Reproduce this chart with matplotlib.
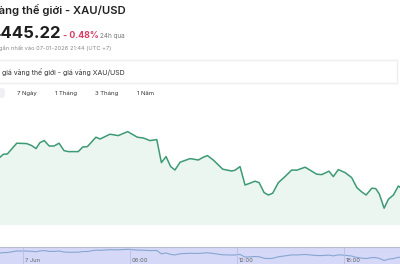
import matplotlib
matplotlib.use("Agg")
import matplotlib.pyplot as plt
from matplotlib.patches import FancyBboxPatch, Rectangle

plt.rcParams['font.family'] = ['Inter', 'DejaVu Sans']

# hours after 7 Jun 00:00 and XAU/USD price
hours = [-1.29, -1.10, -0.88, -0.35, 0.21, 0.49, 0.73, 0.95, 1.19, 1.47,
         1.74, 2.02, 2.30, 2.54, 3.10, 3.35, 3.61, 4.09, 4.32, 4.60,
         4.88, 5.34, 5.87, 6.10, 6.41, 6.75, 7.12, 7.50, 7.76, 8.02,
         8.28, 8.52, 8.81, 9.37, 9.83, 10.11, 10.34, 10.67, 11.20, 11.70,
         11.89, 12.17, 12.45, 12.73, 13.01, 13.24, 13.52, 13.76, 14.00, 14.32,
         14.69, 15.07, 15.35, 15.82, 16.10, 16.47, 16.75, 17.16, 17.40, 17.68,
         18.06, 18.43, 18.72, 19.00, 19.24, 19.56, 19.78, 19.98, 20.25, 20.49,
         20.77, 21.05, 21.14]
prices = [4459.4, 4460.9, 4461.0, 4466.4, 4466.2, 4465.2, 4463.7, 4466.7, 4467.7, 4465.0,
          4465.0, 4466.4, 4462.7, 4462.2, 4462.2, 4464.5, 4464.7, 4469.4, 4468.5, 4469.7,
          4470.9, 4470.2, 4472.2, 4471.0, 4469.4, 4469.0, 4467.7, 4468.2, 4456.7, 4459.7,
          4454.7, 4453.0, 4456.9, 4458.7, 4458.0, 4459.4, 4460.2, 4458.0, 4453.4, 4452.5,
          4452.9, 4454.7, 4445.5, 4446.4, 4447.4, 4446.7, 4441.7, 4440.5, 4441.4, 4446.7,
          4449.7, 4453.0, 4452.9, 4454.4, 4452.9, 4450.9, 4450.7, 4452.4, 4449.7, 4453.2,
          4451.7, 4449.2, 4444.2, 4442.0, 4440.5, 4443.9, 4443.7, 4441.0, 4433.9, 4438.4,
          4440.5, 4445.0, 4444.4]

nav_ticks = [0, 6, 12, 18]
nav_labels = ["7 Jun", "06:00", "12:00", "18:00"]
tabs = ["7 Ngày", "1 Tháng", "3 Tháng", "1 Năm"]
tab_x = [17, 55, 95, 137]

W, H = 400, 267
fig = plt.figure(figsize=(4, 2.67), dpi=100)
fig.patch.set_facecolor('white')

def fx(px):
    return px / W

def fy(py):
    return 1 - py / H

xlim = (hours[0], hours[-1])

# main chart
ax = fig.add_axes([0, fy(225), 1, (225 - 100) / H])
ax.plot(hours, prices, color='#3d9a74', lw=1.1, solid_joinstyle='round')
ax.fill_between(hours, prices, 4400, color='#ecf6f1', lw=0)
ax.set_xlim(*xlim)
ax.set_ylim(4425.5, 4488)
ax.axis('off')

# navigator
nav = fig.add_axes([0, fy(264), 1, 17 / H])
nav.set_facecolor('#d5d9f7')
nav.plot(hours, prices, color='#86a6d2', lw=0.8)
nav.set_xlim(*xlim)
nav.set_ylim(4422, 4480)
for t in nav_ticks:
    nav.axvline(t, color='#b9bfe6', lw=0.6)
nav.set_xticks([])
nav.set_yticks([])
for s in nav.spines.values():
    s.set_visible(False)
nav.spines['top'].set_visible(True)
nav.spines['top'].set_color('#b8bccc')
nav.spines['top'].set_linewidth(0.8)
for t, lab in zip(nav_ticks, nav_labels):
    nav.text(t + 0.1, 0.22, lab, transform=nav.get_xaxis_transform(),
             fontsize=4.2, color='#666666', ha='left', va='center')

# header texts
fig.text(fx(-8), fy(10), "vàng thế giới - XAU/USD", fontsize=8.1,
         fontweight='semibold', color='#222222', va='center', ha='left')
fig.text(fx(-11), fy(33), "4445.22", fontsize=12, fontweight='bold',
         color='#1e1e1e', va='center', ha='left')
fig.text(fx(63), fy(35), "- 0.48%", fontsize=6.4, fontweight='bold',
         color='#d63c63', va='center', ha='left')
fig.text(fx(100), fy(36), "24h qua", fontsize=4.6, color='#777777',
         va='center', ha='left')
fig.text(fx(-1), fy(48), "gần nhất vào 07-01-2026 21:44 (UTC +7)", fontsize=4.1,
         color='#888888', va='center', ha='left')

# selector box
fig.patches.append(Rectangle((fx(-2), fy(83)), fx(399), (83 - 60) / H,
                             transform=fig.transFigure, fc='white',
                             ec='#eeeeee', lw=1.0))
fig.text(fx(2), fy(71.5), "giá vàng thế giới - giá vàng XAU/USD", fontsize=5.0,
         color='#333333', va='center', ha='left')

# time range tabs
fig.patches.append(FancyBboxPatch((fx(-6), fy(98)), fx(11), 10 / H,
                                  boxstyle='round,pad=0,rounding_size=0.01',
                                  transform=fig.transFigure, fc='#eef0f3',
                                  ec='none'))
for x, lab in zip(tab_x, tabs):
    fig.text(fx(x), fy(93.5), lab, fontsize=4.3, color='#333333',
             va='center', ha='left')

fig.savefig('out.png', dpi=100, facecolor='white')
